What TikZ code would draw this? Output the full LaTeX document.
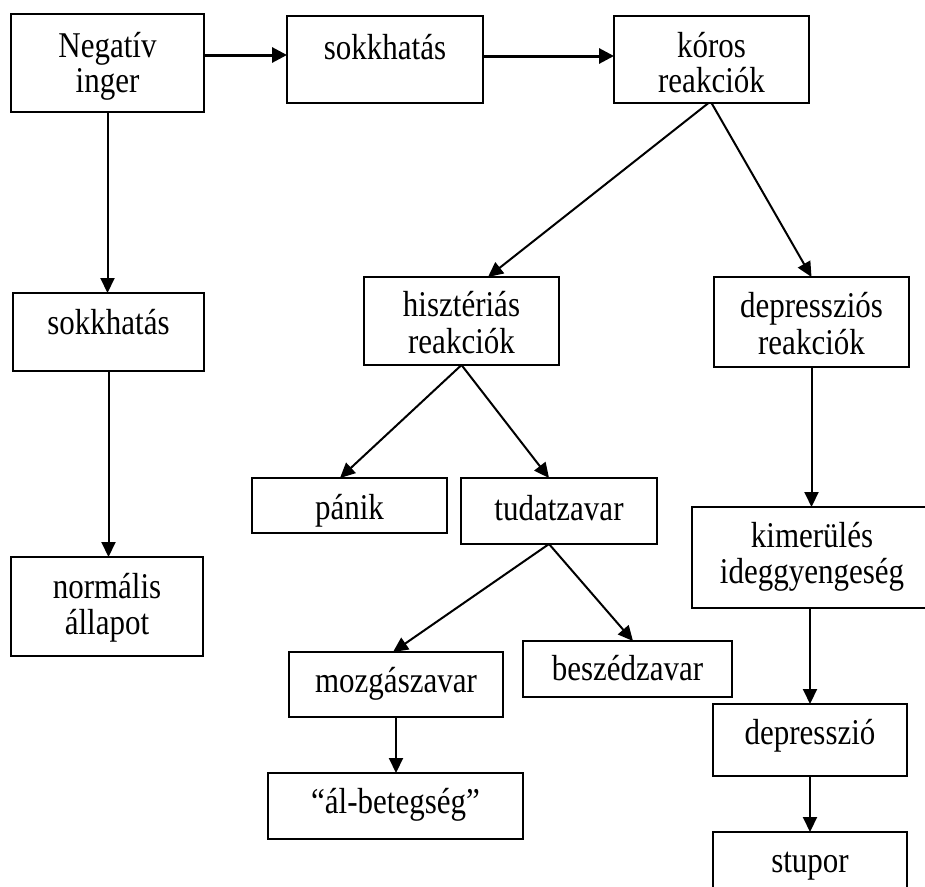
\documentclass[tikz,border=0pt]{standalone}
\usepackage{fontspec}
\setmainfont{Liberation Serif}
\usetikzlibrary{arrows.meta}
\newcommand{\vstretch}[1]{\scalebox{1}[1.17]{#1}}
\begin{document}
\begin{tikzpicture}[x=1pt,y=-1pt,
  box/.style={draw, line width=2pt, inner sep=0pt, outer sep=0pt},
  txt/.style={inner sep=0pt, anchor=base, font=\fontsize{31}{36}\selectfont},
  arr/.style={line width=2pt, -{Triangle[length=15pt,width=14pt]}},
  arrthick/.style={line width=3pt, -{Triangle[length=15pt,width=15pt]}}
]
\clip (0,0) rectangle (925,886);
\fill[white] (0,0) rectangle (925,886);

% boxes
\node[box, minimum width=193pt, minimum height=98pt] (neg) at (107.5,63) {};
\node[box, minimum width=196pt, minimum height=87pt] (sok1) at (385,59.5) {};
\node[box, minimum width=195pt, minimum height=87pt] (kor) at (711.5,59.5) {};
\node[box, minimum width=191pt, minimum height=78pt] (sok2) at (108.5,332) {};
\node[box, minimum width=192pt, minimum height=99pt] (norm) at (107,606.5) {};
\node[box, minimum width=195pt, minimum height=88pt] (hiszt) at (461.5,321) {};
\node[box, minimum width=195pt, minimum height=90pt] (dep) at (811.5,322) {};
\node[box, minimum width=195pt, minimum height=55pt] (panik) at (349.5,505.5) {};
\node[box, minimum width=196pt, minimum height=66pt] (tud) at (559,511) {};
\node[box, minimum width=240pt, minimum height=101pt] (kim) at (812,557.5) {};
\node[box, minimum width=214pt, minimum height=65pt] (mozg) at (396,684.5) {};
\node[box, minimum width=209pt, minimum height=56pt] (besz) at (627.5,669) {};
\node[box, minimum width=255pt, minimum height=66pt] (al) at (395.5,806) {};
\node[box, minimum width=194pt, minimum height=72pt] (depr) at (810,740) {};
\node[box, minimum width=194pt, minimum height=68pt] (stup) at (810,866) {};

% texts
\node[txt] (t1a) at (107.5,57) {\vstretch{Negatív}};
\node[txt] (t1b) at (107.5,92) {\vstretch{inger}};
\node[txt] (t2) at (385,59) {\vstretch{sokkhatás}};
\node[txt] (t3a) at (711.5,57) {\vstretch{kóros}};
\node[txt] (t3b) at (711.5,92) {\vstretch{reakciók}};
\node[txt] (t4) at (108.5,334) {\vstretch{sokkhatás}};
\node[txt] (t5a) at (107,598) {\vstretch{normális}};
\node[txt] (t5b) at (107,634) {\vstretch{állapot}};
\node[txt] (t6a) at (461.5,316) {\vstretch{hisztériás}};
\node[txt] (t6b) at (461.5,353) {\vstretch{reakciók}};
\node[txt] (t7a) at (811.5,317) {\vstretch{depressziós}};
\node[txt] (t7b) at (811.5,354) {\vstretch{reakciók}};
\node[txt] (t8) at (349.5,519) {\vstretch{pánik}};
\node[txt] (t9) at (559,520) {\vstretch{tudatzavar}};
\node[txt] (t10a) at (812,547) {\vstretch{kimerülés}};
\node[txt] (t10b) at (812,583) {\vstretch{ideggyengeség}};
\node[txt] (t11) at (396,692) {\vstretch{mozgászavar}};
\node[txt] (t12) at (627.5,680) {\vstretch{beszédzavar}};
\node[txt] (t13) at (395.5,813) {\vstretch{“ál-betegség”}};
\node[txt] (t14) at (810,744) {\vstretch{depresszió}};
\node[txt] (t15) at (810,872) {\vstretch{stupor}};

% connectors
\draw[arrthick] ([yshift=8pt]neg.east) -- ([yshift=8pt]neg.east -| sok1.west);
\draw[arrthick] ([yshift=3.5pt]sok1.east) -- ([yshift=3.5pt]sok1.east -| kor.west);
\draw[arr] (neg.south) -- (neg.south |- sok2.north);
\draw[arr] (sok2.south) -- (sok2.south |- norm.north);
\draw[arr] ([xshift=-3pt]kor.south) -- ([xshift=26.5pt]hiszt.north);
\draw[arr] (kor.south) -- (dep.north);
\draw[arr] (hiszt.south) -- ([xshift=-9.5pt]panik.north);
\draw[arr] (hiszt.south) -- ([xshift=-10pt]tud.north);
\draw[arr] (dep.south) -- (dep.south |- kim.north);
\draw[arr] ([xshift=-10pt]tud.south) -- ([xshift=-3pt]mozg.north);
\draw[arr] ([xshift=-10pt]tud.south) -- ([xshift=5.5pt]besz.north);
\draw[arr] (mozg.south) -- (mozg.south |- al.north);
\draw[arr] (kim.south -| depr.north) -- (depr.north);
\draw[arr] (depr.south) -- (stup.north);
\end{tikzpicture}
\end{document}
